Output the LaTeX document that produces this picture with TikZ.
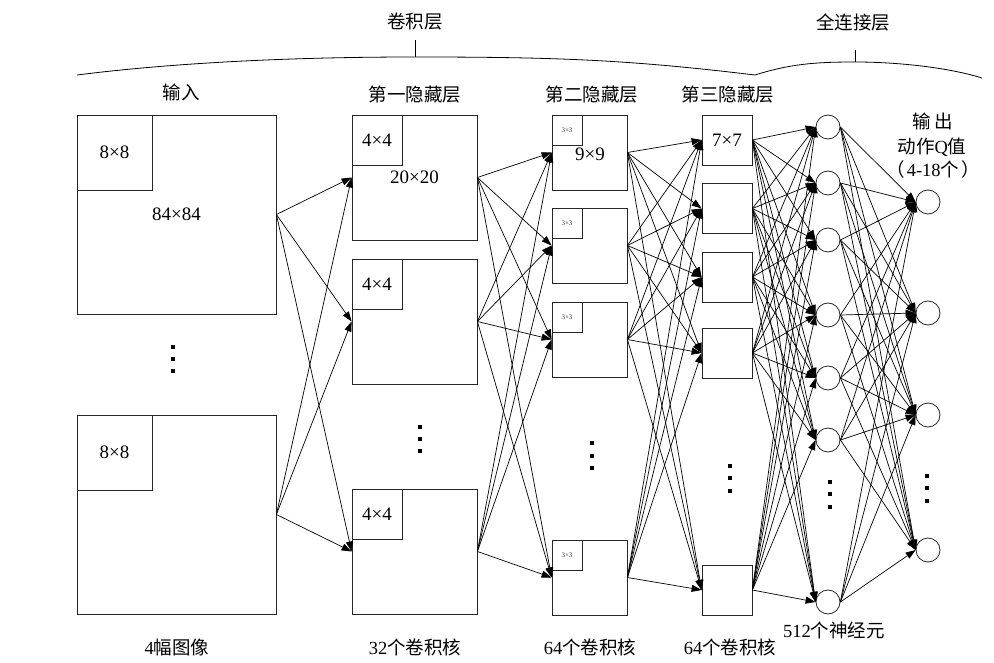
\documentclass[tikz,border=0pt]{standalone}
\usepackage{fontspec}
\setmainfont{Liberation Serif}
\newfontfamily\cjk{Noto Sans CJK SC}
\usetikzlibrary{arrows.meta}
\tikzset{
  box/.style={draw=black!85, line width=0.8pt, inner sep=0pt, minimum width=#1, minimum height=#1},
  kern/.style={box=#1, anchor=north west},
  neuron/.style={draw=black!85, line width=0.8pt, circle, inner sep=0pt, minimum size=24pt},
  conn/.style={line width=0.7pt, -{Triangle[length=10pt,width=7pt]}},
  lbl/.style={inner sep=0pt, font=\fontsize{18.5}{21}\selectfont},
  num/.style={font=\fontsize{19}{21}\selectfont},
  tiny/.style={font=\fontsize{7}{8}\selectfont, text=black!75},
  dotsq/.style={fill=black, inner sep=0pt, minimum size=4.5pt},
  brace/.style={line width=0.8pt}
}
\begin{document}
\begin{tikzpicture}[x=1pt,y=-1pt]
\useasboundingbox (0,0) rectangle (994,663);
% top labels and braces
\node[lbl] (tconv) at (415,22) {\cjk 卷积层};
\node[lbl] (tfc) at (853,22) {\cjk 全连接层};
\draw[brace] (77,75) .. controls (180,62) and (300,57) .. (415,57)
  .. controls (560,57) and (630,60) .. (755,75);
\draw[brace] (755,75) .. controls (790,64) and (815,62) .. (855,62)
  .. controls (900,62) and (950,68) .. (982,78);
\draw[brace] (415,40) -- (415,57);
\draw[brace] (855,50) -- (855,62);
% layer titles
\node[lbl] (tin) at (181,92) {\cjk 输入};
\node[lbl] (th1) at (415,95) {\cjk 第一隐藏层};
\node[lbl] (th2) at (592,95) {\cjk 第二隐藏层};
\node[lbl] (th3) at (728,95) {\cjk 第三隐藏层};
% input
\node[box=199, num] (in1) at (176.5,214.5) {84×84};
\node[kern=75, num] (in1k) at (in1.north west) {8×8};
\node[box=199] (in2) at (176.5,514.5) {};
\node[kern=75, num] (in2k) at (in2.north west) {8×8};
\node[dotsq] (din1) at (173,347) {};
\node[dotsq] (din2) at (173,359) {};
\node[dotsq] (din3) at (173,371) {};
% hidden 1
\node[box=125, num] (h1a) at (414.5,177.5) {20×20};
\node[kern=50, num] (h1ak) at (h1a.north west) {4×4};
\node[box=125] (h1b) at (414.5,321.5) {};
\node[kern=50, num] (h1bk) at (h1b.north west) {4×4};
\node[box=125] (h1c) at (414.5,551.5) {};
\node[kern=50, num] (h1ck) at (h1c.north west) {4×4};
\node[dotsq] (dh11) at (420,427) {};
\node[dotsq] (dh12) at (420,439) {};
\node[dotsq] (dh13) at (420,451) {};
% hidden 2
\node[box=75, num] (h2a) at (589.5,152.5) {};
\node[num] (h2alab) at (590,154) {9×9};
\node[kern=30, tiny] (h2ak) at (h2a.north west) {3×3};
\node[box=75] (h2b) at (589.5,245.5) {};
\node[kern=30, tiny] (h2bk) at (h2b.north west) {3×3};
\node[box=75] (h2c) at (589.5,339.5) {};
\node[kern=30, tiny] (h2ck) at (h2c.north west) {3×3};
\node[box=75] (h2d) at (589.5,577.5) {};
\node[kern=30, tiny] (h2dk) at (h2d.north west) {3×3};
\node[dotsq] (dh21) at (592,443) {};
\node[dotsq] (dh22) at (592,456) {};
\node[dotsq] (dh23) at (592,468) {};
% hidden 3
\node[box=50, num] (h3a) at (727,140) {7×7};
\node[box=50] (h3b) at (727,208.5) {};
\node[box=50] (h3c) at (727,277) {};
\node[box=50] (h3d) at (727,353) {};
\node[box=50] (h3e) at (727,590) {};
\node[dotsq] (dh31) at (730,466) {};
\node[dotsq] (dh32) at (730,478) {};
\node[dotsq] (dh33) at (730,491) {};
% neurons
\node[neuron] (n1) at (828,127) {};
\node[neuron] (n2) at (828,183) {};
\node[neuron] (n3) at (828,240) {};
\node[neuron] (n4) at (828,315) {};
\node[neuron] (n5) at (828,378) {};
\node[neuron] (n6) at (828,440) {};
\node[neuron] (n7) at (828,602) {};
\node[dotsq] (dn1) at (830,482) {};
\node[dotsq] (dn2) at (830,494) {};
\node[dotsq] (dn3) at (830,507) {};
% outputs
\node[neuron] (o1) at (928,202) {};
\node[neuron] (o2) at (928,313) {};
\node[neuron] (o3) at (928,415) {};
\node[neuron] (o4) at (928,550) {};
\node[dotsq] (do1) at (927,476) {};
\node[dotsq] (do2) at (927,488) {};
\node[dotsq] (do3) at (927,501) {};
\node[lbl] (tout1) at (933,121) {\cjk 输\,出};
\node[lbl] (tout2) at (932,147) {{\cjk 动作}Q{\cjk 值}};
\node[lbl] (tout3) at (933,169) {{\cjk （}\hspace{2pt}4-18{\cjk 个}\hspace{2pt}{\cjk ）}};
% bottom labels
\node[lbl] (b1) at (177,647) {4{\cjk 幅图像}};
\node[lbl] (b2) at (415,647) {32{\cjk 个卷积核}};
\node[lbl] (b3) at (590,647) {64{\cjk 个卷积核}};
\node[lbl] (b4) at (730,647) {64{\cjk 个卷积核}};
\node[lbl] (b5) at (834,630) {512{\cjk 个神经元}};
% connections
\foreach \s in {in1,in2}
  \foreach \t in {h1a,h1b,h1c}
    \draw[conn] (\s.east) -- (\t.west);
\foreach \s in {h1a,h1b,h1c}
  \foreach \t in {h2a,h2b,h2c,h2d}
    \draw[conn] (\s.east) -- (\t.west);
\foreach \s in {h2a,h2b,h2c,h2d}
  \foreach \t in {h3a,h3b,h3c,h3d,h3e}
    \draw[conn] (\s.east) -- (\t.west);
\foreach \s in {h3a,h3b,h3c,h3d,h3e}
  \foreach \t in {n1,n2,n3,n4,n5,n6,n7}
    \draw[conn] (\s.east) -- (\t.west);
\foreach \s in {n1,n2,n3,n4,n5,n6,n7}
  \foreach \t in {o1,o2,o3,o4}
    \draw[conn] (\s.east) -- (\t.west);
\end{tikzpicture}
\end{document}
